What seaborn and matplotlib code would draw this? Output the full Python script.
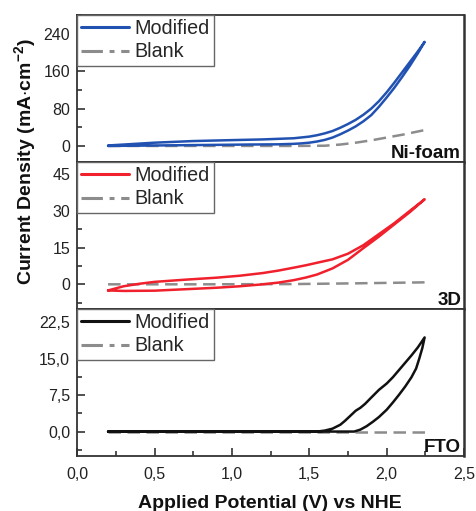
import numpy as np
import pandas as pd
import seaborn as sns
import matplotlib
matplotlib.use("Agg")
import matplotlib.pyplot as plt
from matplotlib.lines import Line2D
from matplotlib.ticker import MultipleLocator, FixedLocator, FixedFormatter

# ---- data: cyclic voltammograms (forward scan then reverse scan) ----
# Ni-foam
ni_mod_x = [0.20, 0.35, 0.50, 0.80, 1.10, 1.30, 1.40, 1.45, 1.50, 1.55, 1.60, 1.65, 1.70, 1.75,
            1.80, 1.85, 1.90, 1.95, 2.00, 2.05, 2.10, 2.15, 2.20, 2.245,
            2.20, 2.15, 2.10, 2.05, 2.00, 1.95, 1.90, 1.85, 1.80, 1.75, 1.70, 1.65, 1.60,
            1.55, 1.50, 1.40, 1.20, 1.00, 0.75, 0.50, 0.30, 0.20]
ni_mod_y = [0, 0.5, 1, 2, 3, 3.5, 4.5, 5.5, 7, 9.5, 13, 18, 25, 33,
            42, 53, 66, 84, 104, 125, 148, 172, 198, 223,
            202, 180, 158, 136, 115, 96, 80, 67, 56, 47, 39, 32, 27,
            23, 20, 16.5, 14, 12.5, 10.5, 7, 3, 1]
ni_blank_x = [0.20, 0.60, 1.00, 1.40, 1.60, 1.70, 1.80, 1.90, 2.00, 2.10, 2.245]
ni_blank_y = [0, 0, 0, 0, 0.5, 3, 7, 12, 18, 24, 34]

# 3D electrode
d3_mod_x = [0.20, 0.30, 0.50, 0.70, 0.90, 1.05, 1.20, 1.30, 1.40, 1.48, 1.55, 1.65, 1.75,
            1.85, 1.95, 2.05, 2.15, 2.245,
            2.15, 2.05, 1.95, 1.85, 1.75, 1.65, 1.55, 1.48, 1.40, 1.30, 1.20, 1.05,
            0.90, 0.70, 0.50, 0.40, 0.30, 0.20]
d3_mod_y = [-2.5, -2.7, -2.6, -2.0, -1.4, -0.8, 0.0, 0.7, 1.7, 2.8, 4.0, 6.5, 10.0,
            14.8, 19.5, 24.5, 29.5, 34.7,
            30.0, 25.0, 20.5, 16.0, 12.5, 10.2, 8.8, 7.8, 6.8, 5.6, 4.6, 3.5,
            2.7, 1.9, 1.0, 0.2, -0.8, -2.5]
d3_blank_x = [0.20, 0.80, 1.40, 1.80, 2.245]
d3_blank_y = [0.0, 0.0, 0.1, 0.4, 0.8]

# FTO
fto_mod_x = [0.20, 0.80, 1.40, 1.79, 1.83, 1.87, 1.91, 1.95, 2.00, 2.04, 2.08, 2.12, 2.16,
             2.19, 2.21, 2.23, 2.245,
             2.20, 2.16, 2.12, 2.08, 2.04, 2.00, 1.95, 1.90, 1.86, 1.83, 1.80, 1.77,
             1.73, 1.70, 1.65, 1.60, 1.55, 1.20, 0.20]
fto_mod_y = [0.0, 0.0, 0.0, 0.0, 0.4, 1.1, 2.0, 3.0, 4.5, 6.0, 7.6, 9.3, 11.2,
             13.0, 15.0, 17.2, 19.4,
             17.3, 15.7, 14.2, 12.7, 11.2, 9.9, 8.6, 7.0, 5.7, 4.9, 4.3, 3.4,
             2.2, 1.4, 0.6, 0.2, 0.0, 0.0, 0.0]
fto_blank_x = [0.20, 1.00, 1.80, 2.245]
fto_blank_y = [0.0, 0.0, 0.0, 0.0]

panel_names = ["Ni-foam", "3D", "FTO"]
series_names = ["Modified", "Blank"]

xtick_values = [0.0, 0.5, 1.0, 1.5, 2.0, 2.5]
xtick_labels = ["0,0", "0,5", "1,0", "1,5", "2,0", "2,5"]
ytick_values = [[0, 80, 160, 240], [0, 15, 30, 45], [0.0, 7.5, 15.0, 22.5]]
ytick_labels = [["0", "80", "160", "240"], ["0", "15", "30", "45"],
                ["0,0", "7,5", "15,0", "22,5"]]
ylims = [(-34, 281), (-10, 50), (-5, 25.3)]
yminor = [40, 7.5, 3.75]

mod_colors = ["#2152b2", "#f0202c", "#111111"]
blank_color = "#8c8c8c"

# ---- style ----
sns.set_theme(style="ticks")
plt.rcParams["font.family"] = ["Liberation Sans", "DejaVu Sans"]
plt.rcParams["mathtext.fontset"] = "custom"
plt.rcParams["mathtext.rm"] = "Liberation Sans"
plt.rcParams["mathtext.bf"] = "Liberation Sans:bold"
plt.rcParams["mathtext.it"] = "Liberation Sans:italic"

fig = plt.figure(figsize=(4.76, 5.11), dpi=100)
gs = fig.add_gridspec(3, 1, left=0.162, right=0.975, top=0.971, bottom=0.108, hspace=0)
axes = [fig.add_subplot(gs[i]) for i in range(3)]

panels = [
    (ni_mod_x, ni_mod_y, ni_blank_x, ni_blank_y),
    (d3_mod_x, d3_mod_y, d3_blank_x, d3_blank_y),
    (fto_mod_x, fto_mod_y, fto_blank_x, fto_blank_y),
]

for i, (ax, (mx, my, bx, by)) in enumerate(zip(axes, panels)):
    df = pd.concat([
        pd.DataFrame({"potential": bx, "current": by, "series": "Blank"}),
        pd.DataFrame({"potential": mx, "current": my, "series": "Modified"}),
    ], ignore_index=True)
    sns.lineplot(data=df, x="potential", y="current", hue="series", style="series",
                 hue_order=["Blank", "Modified"],
                 palette={"Modified": mod_colors[i], "Blank": blank_color},
                 dashes={"Modified": "", "Blank": (5, 2.6)},
                 sort=False, estimator=None, lw=1.8, ax=ax, legend=False)

    ax.set_xlim(0.0, 2.5)
    ax.set_ylim(*ylims[i])
    ax.set_xlabel("")
    ax.set_ylabel("")

    ax.yaxis.set_major_locator(FixedLocator(ytick_values[i]))
    ax.yaxis.set_major_formatter(FixedFormatter(ytick_labels[i]))
    ax.yaxis.set_minor_locator(MultipleLocator(yminor[i]))
    ax.xaxis.set_major_locator(FixedLocator(xtick_values))
    ax.xaxis.set_minor_locator(MultipleLocator(0.25))
    ax.tick_params(axis="y", which="major", direction="in", length=6, width=1.1,
                   labelsize=11.5, pad=5, colors="#222222", labelcolor="#222222")
    ax.tick_params(axis="y", which="minor", direction="in", length=3.5, width=1.1,
                   colors="#222222")
    if i < 2:
        ax.tick_params(axis="x", which="both", length=0, labelbottom=False)
    else:
        ax.xaxis.set_major_formatter(FixedFormatter(xtick_labels))
        ax.tick_params(axis="x", which="major", direction="in", length=6, width=1.1,
                       labelsize=11.5, pad=8, colors="#222222", labelcolor="#222222")
        ax.tick_params(axis="x", which="minor", direction="in", length=3.5, width=1.1,
                       colors="#222222")

    for side in ["left", "right", "top", "bottom"]:
        ax.spines[side].set_visible(True)
        ax.spines[side].set_linewidth(1.3)
        ax.spines[side].set_color("#333333")
    ax.spines["right"].set_linewidth(1.8)

    handles = [
        Line2D([], [], color=mod_colors[i], lw=2.2),
        Line2D([], [], color=blank_color, lw=2.2, dashes=(7, 2.2, 1.6, 2.2)),
    ]
    leg = ax.legend(handles, series_names, loc="upper left", borderaxespad=0,
                    fontsize=14.2, frameon=True, fancybox=False, framealpha=1,
                    edgecolor="#666666", borderpad=0.22, labelspacing=0.22,
                    handlelength=2.4, handletextpad=0.3)
    leg.get_frame().set_linewidth(1.0)

    ax.text(0.992, 0.028, panel_names[i], transform=ax.transAxes, ha="right",
            va="baseline", fontsize=13.5, fontweight="bold", color="#111111")

fig.text(25 / 476, 1 - 162 / 511, r"Current Density (mA$\cdot$cm$^{\mathbf{-2}}$)",
         rotation=90, ha="center", va="center", fontsize=14, fontweight="bold",
         color="#111111")
fig.text(270 / 476, 1 - 508 / 511, "Applied Potential (V) vs NHE", ha="center",
         va="baseline", fontsize=14, fontweight="bold", color="#111111")

fig.savefig("out.png", dpi=100)
